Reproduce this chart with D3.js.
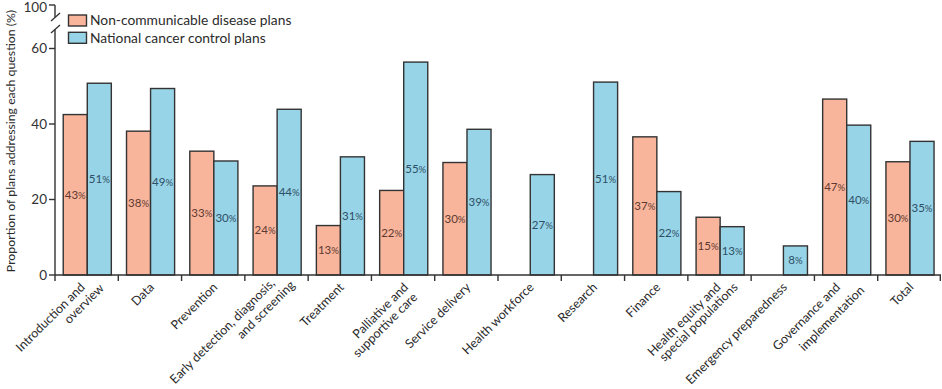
<!DOCTYPE html>
<html>
<head>
<meta charset="utf-8">
<script src="https://cdn.jsdelivr.net/npm/d3@7"></script>
<style>
  html, body { margin: 0; padding: 0; background: #fff; }
  svg { display: block; }
  text { font-family: Lato, "Open Sans", sans-serif; fill: #2b2b2b; }
</style>
</head>
<body>
<svg id="chart" width="942" height="389"></svg>
<script>
// ---- data ----
const categories = [
  "Introduction and overview", "Data", "Prevention",
  "Early detection, diagnosis, and screening", "Treatment",
  "Palliative and supportive care", "Service delivery", "Health workforce",
  "Research", "Finance", "Health equity and special populations",
  "Emergency preparedness", "Governance and implementation", "Total"
];
const categoryLines = [
  ["Introduction and", "overview"], ["Data"], ["Prevention"],
  ["Early detection, diagnosis,", "and screening"], ["Treatment"],
  ["Palliative and", "supportive care"], ["Service delivery"], ["Health workforce"],
  ["Research"], ["Finance"], ["Health equity and", "special populations"],
  ["Emergency preparedness"], ["Governance and", "implementation"], ["Total"]
];
const seriesNames = ["Non-communicable disease plans", "National cancer control plans"];
const ncdValues  = [42.5, 38.1, 32.8, 23.6, 13.1, 22.4, 29.8, null, null, 36.6, 15.3, null, 46.6, 30.0];
const nccpValues = [50.8, 49.4, 30.2, 43.9, 31.3, 56.4, 38.6, 26.6, 51.1, 22.1, 12.8, 7.7, 39.7, 35.4];
const ncdLabels  = ["43", "38", "33", "24", "13", "22", "30", null, null, "37", "15", null, "47", "30"];
const nccpLabels = ["51", "49", "30", "44", "31", "55", "39", "27", "51", "22", "13", "8", "40", "35"];
const yTicks = [0, 20, 40, 60, 100];
const yLabel = "Proportion of plans addressing each question (%)";

// ---- style / layout ----
const fills = ["#f9b59c", "#98d4e7"];
const labelColors = ["#5e3a30", "#2d4f66"];
const stroke = "#333333";
const x0 = 55, x1 = 941, yBase = 275;
// per-label tweak: [dx line1, dy line1, dx line2, dy line2]
const labelLayout = {
  0: [-4, 0, 15, 1], 3: [-4, -4, 16, -2], 5: [3, 0, 12, 10], 10: [-1, 0, 16, 0], 12: [-8, 0, 16, 3]
};

const svg = d3.select("#chart");

const x = d3.scaleBand().domain(categories).range([x0, x1]).padding(0);
const bw = x.bandwidth();
const xi = d3.scaleBand().domain(seriesNames).range([bw * 0.13, bw * 0.89]).padding(0);
const y = d3.scaleLinear().domain([0, 60, 100]).range([yBase, 48.5, 5]);

const rows = categories.map((c, i) => ({
  cat: c, i,
  vals: [
    { s: seriesNames[0], k: 0, v: ncdValues[i], lab: ncdLabels[i] },
    { s: seriesNames[1], k: 1, v: nccpValues[i], lab: nccpLabels[i] }
  ]
}));

// bars
const g = svg.append("g");
const grp = g.selectAll("g.cat").data(rows).join("g")
  .attr("transform", d => `translate(${x(d.cat)},0)`);
grp.selectAll("rect").data(d => d.vals.filter(v => v.v != null)).join("rect")
  .attr("x", d => xi(d.s))
  .attr("width", xi.bandwidth())
  .attr("y", d => y(d.v))
  .attr("height", d => yBase - y(d.v))
  .attr("fill", d => fills[d.k])
  .attr("stroke", stroke)
  .attr("stroke-width", 1.4);

// value labels
const lab = grp.selectAll("text.val").data(d => d.vals.filter(v => v.v != null)).join("text")
  .attr("class", "val")
  .attr("x", d => xi(d.s) + xi.bandwidth() / 2)
  .attr("y", d => (y(d.v) + yBase) / 2)
  .attr("dy", "0.35em")
  .attr("text-anchor", "middle")
  .style("font-size", "11.5px")
  .style("fill", d => labelColors[d.k]);
lab.append("tspan").text(d => d.lab);
lab.append("tspan").style("font-size", "9.5px").text("%");

// y axis (broken)
const ya = svg.append("g");
ya.append("line").attr("x1", x0).attr("x2", x0).attr("y1", y(100)).attr("y2", 17)
  .attr("stroke", stroke).attr("stroke-width", 1.4);
ya.append("line").attr("x1", x0).attr("x2", x0).attr("y1", 29).attr("y2", yBase)
  .attr("stroke", stroke).attr("stroke-width", 1.4);
ya.append("line").attr("x1", x0 - 4).attr("x2", x0 + 5).attr("y1", 21).attr("y2", 13)
  .attr("stroke", stroke).attr("stroke-width", 1.4);
ya.append("line").attr("x1", x0 - 4).attr("x2", x0 + 5).attr("y1", 33).attr("y2", 25)
  .attr("stroke", stroke).attr("stroke-width", 1.4);
const yt = ya.selectAll("g.t").data(yTicks).join("g").attr("transform", d => `translate(${x0},${y(d)})`);
yt.append("line").attr("x1", -6).attr("x2", 0).attr("stroke", stroke).attr("stroke-width", 1.4);
yt.append("text").attr("x", -8).attr("dy", d => d === 100 ? "0.5em" : "0.35em").attr("text-anchor", "end")
  .style("font-size", "13.5px").style("fill", "#333").text(d => d);

// x axis
const xa = svg.append("g");
xa.append("line").attr("x1", x0).attr("x2", x1).attr("y1", yBase).attr("y2", yBase)
  .attr("stroke", stroke).attr("stroke-width", 1.4);
xa.selectAll("line.tk").data(categories.slice(1).concat([null])).join("line")
  .attr("class", "tk")
  .attr("x1", (d, i) => x(categories[i + 1]) ?? x1 - 0.7)
  .attr("x2", (d, i) => x(categories[i + 1]) ?? x1 - 0.7)
  .attr("y1", yBase).attr("y2", yBase + 6)
  .attr("stroke", stroke).attr("stroke-width", 1.4);
xa.append("line").attr("x1", x0).attr("x2", x0).attr("y1", yBase).attr("y2", yBase + 6)
  .attr("stroke", stroke).attr("stroke-width", 1.4);

// category labels
categories.forEach((c, i) => {
  const cx = x(c) + bw / 2;
  const lines = categoryLines[i];
  const lay = labelLayout[i] || [2, 0, 0, 0];
  lines.forEach((ln, k) => {
    const dx = k === 0 ? lay[0] : lay[2];
    const dy = k === 0 ? lay[1] : lay[3];
    svg.append("text")
      .attr("transform", `translate(${cx + dx + 3},${288 + dy}) rotate(-45)`)
      .attr("text-anchor", "end")
      .style("font-size", "12.5px")
      .style("fill", "#2b2b2b")
      .text(ln);
  });
});

// y label
svg.append("text")
  .attr("transform", `translate(15,141) rotate(-90)`)
  .attr("text-anchor", "middle")
  .style("font-size", "12.3px")
  .style("fill", "#2b2b2b")
  .text(yLabel);

// legend
const lg = svg.append("g");
seriesNames.forEach((s, k) => {
  lg.append("rect").attr("x", 68.5).attr("y", 15 + k * 17.3).attr("width", 18).attr("height", 11)
    .attr("fill", fills[k]).attr("stroke", stroke).attr("stroke-width", 1.4);
  lg.append("text").attr("x", 90).attr("y", 20.5 + k * 17.3).attr("dy", "0.35em")
    .style("font-size", "13.8px").style("fill", "#2b2b2b").text(s);
});
</script>
</body>
</html>
